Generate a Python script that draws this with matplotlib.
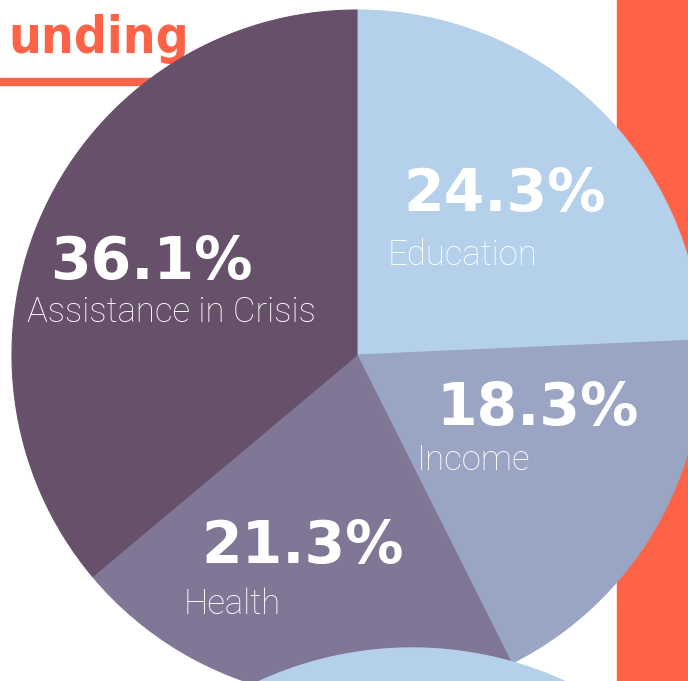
import matplotlib.pyplot as plt
from matplotlib.patches import Rectangle, Circle

categories = ["Education", "Income", "Health", "Assistance in Crisis"]
shares = [24.3, 18.3, 21.3, 36.1]
pct_labels = ["24.3%", "18.3%", "21.3%", "36.1%"]
colors = ["#b5d0ea", "#99a5c3", "#807797", "#67506a"]

W, H = 688, 681
ORANGE = "#ff6347"

# label placement in pixel coords (x, y from top)
pct_pos = [(505, 195), (538, 408), (303, 546), (151, 262)]
name_pos = [(463, 255), (474, 460), (232, 604), (171, 312)]

fig = plt.figure(figsize=(W / 100, H / 100), dpi=100)
ax = fig.add_axes([0, 0, 1, 1])

# decorations behind the pie
ax.add_patch(Rectangle((617, 0), W - 617, H, color=ORANGE, zorder=0))
ax.add_patch(Rectangle((0, H - 85), 160, 7, color=ORANGE, zorder=0))
ax.text(8, H - 53, "unding", color=ORANGE, fontsize=37,
        family="DejaVu Sans", fontweight="bold", fontstretch="condensed",
        ha="left", va="baseline", zorder=0)

wedges, _ = ax.pie(shares, colors=colors, startangle=90, counterclock=False,
                   center=(357, H - 355), radius=345, frame=True)
for w in wedges:
    w.set_edgecolor(w.get_facecolor())
    w.set_linewidth(0.8)
ax.set_xlim(0, W)
ax.set_ylim(0, H)
ax.axis("off")

# light blue circle peeking in at the bottom
ax.add_patch(Circle((412, H - 1014), 366, color=colors[0], zorder=5))

for p, n, pp, npos in zip(pct_labels, categories, pct_pos, name_pos):
    ax.text(pp[0], H - pp[1], p, color="white", fontsize=42,
            family="DejaVu Sans", fontweight="bold", ha="center", va="center", zorder=6)
    ax.text(npos[0], H - npos[1], n, color="white", fontsize=25,
            family="Roboto", fontweight="light", ha="center", va="center", zorder=6)

fig.savefig("out.png", dpi=100)
